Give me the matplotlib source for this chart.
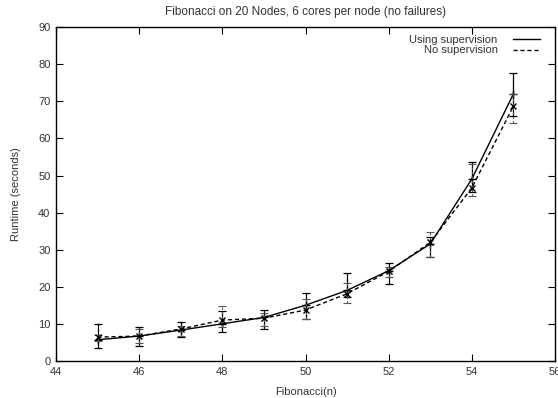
import matplotlib
matplotlib.use("Agg")
import matplotlib.pyplot as plt

plt.rcParams["font.family"] = ["Liberation Sans", "DejaVu Sans"]

# data
n = [45, 46, 47, 48, 49, 50, 51, 52, 53, 54, 55]

sup_mean = [5.8, 6.8, 8.4, 10.1, 11.8, 15.1, 19.1, 24.4, 31.6, 49.1, 72.0]
sup_low = [3.7, 4.1, 6.5, 8.0, 8.7, 11.4, 17.4, 20.8, 28.0, 45.5, 66.0]
sup_high = [10.0, 9.3, 10.7, 13.6, 13.7, 18.3, 23.9, 26.6, 33.6, 53.8, 77.6]

nosup_mean = [6.5, 6.8, 8.7, 11.1, 11.6, 13.8, 18.2, 24.2, 32.0, 46.7, 68.7]
nosup_low = [5.5, 4.9, 6.8, 9.3, 9.5, 11.5, 15.6, 22.8, 28.2, 44.6, 64.2]
nosup_high = [7.2, 8.6, 9.5, 14.9, 13.0, 16.9, 21.0, 25.5, 34.7, 53.0, 72.0]

fig = plt.figure(figsize=(5.58, 3.98), dpi=100)
ax = fig.add_axes([0.1004, 0.0922, 0.8942, 0.8398])

# supervised series
sup_err = [[m - lo for m, lo in zip(sup_mean, sup_low)],
           [hi - m for m, hi in zip(sup_mean, sup_high)]]
ax.errorbar(n, sup_mean, yerr=sup_err, fmt="none", ecolor="black",
            elinewidth=0.9, capsize=3, capthick=0.9)
ax.plot(n, sup_mean, color="black", linewidth=1.0, marker="+",
        markersize=6, markeredgewidth=1.0, label="Using supervision")

# no supervision series
nosup_err = [[m - lo for m, lo in zip(nosup_mean, nosup_low)],
             [hi - m for m, hi in zip(nosup_mean, nosup_high)]]
eb = ax.errorbar(n, nosup_mean, yerr=nosup_err, fmt="none", ecolor="#555555",
                 elinewidth=0.8, capsize=3, capthick=0.8)
eb[2][0].set_linestyle((0, (2, 2)))
ax.plot(n, nosup_mean, color="black", linewidth=1.0, linestyle=(0, (3, 2)),
        marker="x", markersize=5, markeredgewidth=1.0, label="No supervision")

# axes
ax.set_xlim(44, 56)
ax.set_ylim(0, 90)
ax.set_xticks(range(44, 57, 2))
ax.set_yticks(range(0, 91, 10))
ax.tick_params(direction="in", top=True, right=True, length=5,
               labelsize=8, colors="black", labelcolor="#333333", pad=4)
for s in ax.spines.values():
    s.set_linewidth(1.0)

ax.set_xlabel("Fibonacci(n)", fontsize=8, color="#333333", labelpad=7)
ax.set_ylabel("Runtime (seconds)", fontsize=8, color="#333333", labelpad=12)
ax.set_title("Fibonacci on 20 Nodes, 6 cores per node (no failures)",
             fontsize=8.5, color="#333333", pad=9)

leg = ax.legend(loc="upper right", bbox_to_anchor=(0.985, 1.0),
                frameon=False, markerfirst=False,
                fontsize=8, handlelength=2.4, handletextpad=1.4,
                labelspacing=0.05, borderaxespad=0.3)
for line in leg.get_lines():
    line.set_marker("")
for t in leg.get_texts():
    t.set_ha("right")
    t.set_color("#333333")

#save
fig.savefig("out.png", dpi=100)
